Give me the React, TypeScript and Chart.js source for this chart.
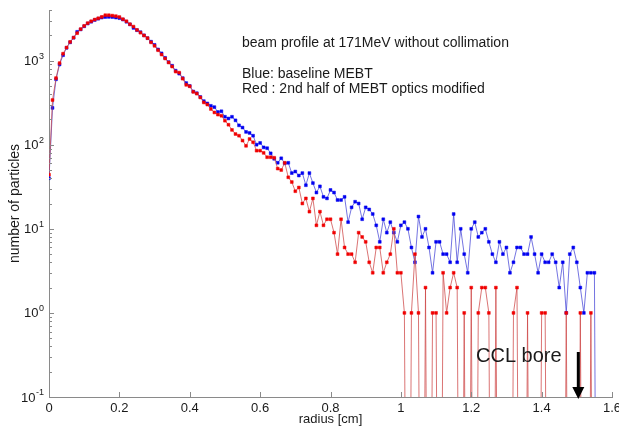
import React, { useEffect, useRef } from "react";
import { Chart, registerables } from "chart.js";

Chart.register(...registerables);

// radius bins [cm]
const RADIUS_CM = [
  0, 0.01, 0.02, 0.03, 0.04, 0.05, 0.06, 0.07, 0.08, 0.09,
  0.1, 0.11, 0.12, 0.13, 0.14, 0.15, 0.16, 0.17, 0.18, 0.19,
  0.2, 0.21, 0.22, 0.23, 0.24, 0.25, 0.26, 0.27, 0.28, 0.29,
  0.3, 0.31, 0.32, 0.33, 0.34, 0.35, 0.36, 0.37, 0.38, 0.39,
  0.4, 0.41, 0.42, 0.43, 0.44, 0.45, 0.46, 0.47, 0.48, 0.49,
  0.5, 0.51, 0.52, 0.53, 0.54, 0.55, 0.56, 0.57, 0.58, 0.59,
  0.6, 0.61, 0.62, 0.63, 0.64, 0.65, 0.66, 0.67, 0.68, 0.69,
  0.7, 0.71, 0.72, 0.73, 0.74, 0.75, 0.76, 0.77, 0.78, 0.79,
  0.8, 0.81, 0.82, 0.83, 0.84, 0.85, 0.86, 0.87, 0.88, 0.89,
  0.9, 0.91, 0.92, 0.93, 0.94, 0.95, 0.96, 0.97, 0.98, 0.99,
  1.0, 1.01, 1.02, 1.03, 1.04, 1.05, 1.06, 1.07, 1.08, 1.09,
  1.1, 1.11, 1.12, 1.13, 1.14, 1.15, 1.16, 1.17, 1.18, 1.19,
  1.2, 1.21, 1.22, 1.23, 1.24, 1.25, 1.26, 1.27, 1.28, 1.29,
  1.3, 1.31, 1.32, 1.33, 1.34, 1.35, 1.36, 1.37, 1.38, 1.39,
  1.4, 1.41, 1.42, 1.43, 1.44, 1.45, 1.46, 1.47, 1.48, 1.49,
  1.5, 1.51, 1.52, 1.53, 1.54, 1.55, 1.56,
];

// Blue: baseline MEBT
const BLUE_BASELINE = [
  40, 274, 600, 900, 1160, 1420, 1650, 1870, 2200, 2350,
  2560, 2760, 2900, 3040, 3150, 3250, 3300, 3310, 3300, 3250,
  3200, 3080, 2900, 2700, 2450, 2300, 2180, 2000, 1850, 1680,
  1540, 1360, 1220, 1080, 960, 870, 760, 700, 620, 541,
  500, 430, 410, 370, 330, 310, 290, 280, 245, 250,
  215, 205, 215, 195, 170, 160, 142, 138, 128, 100,
  105, 93, 91, 79, 68, 61, 69, 60, 61, 46,
  48, 43, 46, 33, 46, 35, 27, 32, 24, 23,
  29, 27, 22, 22, 24, 12, 18, 21, 20, 13,
  18, 17, 15, 11, 7, 13, 9, 12, 9, 7,
  11, 12, 10, 6, 4, 14, 8, 10, 6, 3,
  7, 7, 5, 5, 4, 15, 4, 10, 5, 3,
  10, 12, 8, 9, 10, 7, 5, 4, 7, 5,
  6, 3, 4, 6, 6, 5, 5, 8, 5, 3,
  5, 4, 4, 5, 4, 2, 4, 1, 5, 6,
  4, 2, 1, 3, 3, 3, 0,
];

// Red: 2nd half of MEBT optics modified
const RED_MODIFIED = [
  44, 340, 620, 934, 1210, 1430, 1670, 1880, 2120, 2370,
  2590, 2790, 2940, 3080, 3190, 3310, 3470, 3470, 3430, 3380,
  3300, 3110, 2940, 2710, 2540, 2320, 2150, 1990, 1850, 1650,
  1500, 1330, 1180, 1060, 950, 850, 740, 720, 610, 515,
  495, 425, 405, 365, 318, 300, 266, 242, 228, 221,
  193, 173, 150, 134, 128, 112, 97, 117, 107, 85,
  85, 80, 71, 71, 70, 52, 50, 61, 41, 36,
  28, 31, 20, 23, 16, 23, 11, 16, 11, 13,
  13, 9, 5, 13, 6, 5, 5, 4, 9, 8,
  7, 4, 3, 6, 6, 3, 4, 5, 10, 3,
  3, 1, 0, 1, 5, 1, 0, 2, 0, 1,
  1, 0, 3, 1, 2, 3, 2, 0, 1, 0,
  2, 0, 1, 2, 2, 1, 0, 2, 0, 0,
  0, 0, 1, 2, 0, 0, 1, 0, 0, 0,
  1, 1, 0, 0, 0, 0, 0, 1, 0, 0,
  0, 1, 0, 0, 1, 0, 0,
];

const X_TICKS = [0, 0.2, 0.4, 0.6, 0.8, 1, 1.2, 1.4, 1.6];
const X_TICK_LABELS = ["0", "0.2", "0.4", "0.6", "0.8", "1", "1.2", "1.4", "1.6"];
const Y_TICKS = [0.1, 1, 10, 100, 1000];
const Y_TICK_EXPONENTS = ["-1", "0", "1", "2", "3"];
const Y_MINOR_MULTIPLIERS = [2, 3, 4, 5, 6, 7, 8, 9];

const TITLE_TEXT = "beam profile at 171MeV without collimation";
const LEGEND_LINES = ["Blue: baseline MEBT", "Red : 2nd half of MEBT optics modified"];
const BORE_LABEL = "CCL bore";
const BORE_RADIUS_CM = 1.5;

const X_TITLE = "radius [cm]";
const Y_TITLE = "number of particles";

const Y_MIN = 0.1;
const Y_MAX = 4000;
const ZERO_FLOOR = 1e-7; // zero counts: drawn far below the axis (clipped)

const FONT = '"Liberation Sans", Arial, sans-serif';
const AXIS_COLOR = "#8a8a8a";
const TEXT_COLOR = "#1a1a1a";

function toPoints(values: number[]) {
  return values.map((v, i) => ({ x: RADIUS_CM[i], y: v > 0 ? v : ZERO_FLOOR }));
}

const overlayPlugin = {
  id: "overlay",
  afterDatasetsDraw(chart: any) {
    const { ctx, chartArea } = chart;
    const xs = chart.scales.x;
    const ys = chart.scales.y;
    ctx.save();

    // inward tick marks
    ctx.strokeStyle = AXIS_COLOR;
    ctx.lineWidth = 1;
    X_TICKS.forEach((v) => {
      const px = Math.round(xs.getPixelForValue(v)) + 0.5;
      ctx.beginPath();
      ctx.moveTo(px, chartArea.bottom);
      ctx.lineTo(px, chartArea.bottom - 5);
      ctx.stroke();
    });
    Y_TICKS.forEach((d) => {
      const py = Math.round(ys.getPixelForValue(d)) + 0.5;
      ctx.beginPath();
      ctx.moveTo(chartArea.left, py);
      ctx.lineTo(chartArea.left + 5, py);
      ctx.stroke();
      Y_MINOR_MULTIPLIERS.forEach((m) => {
        const v = d * m;
        if (v > Y_MAX) return;
        const pm = Math.round(ys.getPixelForValue(v)) + 0.5;
        ctx.beginPath();
        ctx.moveTo(chartArea.left, pm);
        ctx.lineTo(chartArea.left + 3, pm);
        ctx.stroke();
      });
    });

    // y tick labels: 10^n
    ctx.fillStyle = TEXT_COLOR;
    Y_TICKS.forEach((d, i) => {
      const py = ys.getPixelForValue(d);
      const right = chartArea.left - 5;
      ctx.font = `9px ${FONT}`;
      ctx.textAlign = "right";
      ctx.textBaseline = "alphabetic";
      const expW = ctx.measureText(Y_TICK_EXPONENTS[i]).width;
      ctx.fillText(Y_TICK_EXPONENTS[i], right, py - 2);
      ctx.font = `13px ${FONT}`;
      ctx.textBaseline = "middle";
      ctx.fillText("10", right - expW - 0.5, py + 1);
    });

    // annotation texts
    ctx.textAlign = "left";
    ctx.textBaseline = "alphabetic";
    ctx.font = `14px ${FONT}`;
    ctx.fillText(TITLE_TEXT, 242, 47);
    LEGEND_LINES.forEach((t, i) => ctx.fillText(t, 242, 78 + i * 14.5));

    // CCL bore label and arrow
    ctx.font = `20px ${FONT}`;
    ctx.fillText(BORE_LABEL, 476, 362);
    const ax = xs.getPixelForValue(BORE_RADIUS_CM) + 1.5;
    ctx.strokeStyle = "#000";
    ctx.lineWidth = 3;
    ctx.beginPath();
    ctx.moveTo(ax, 352);
    ctx.lineTo(ax, 390);
    ctx.stroke();
    ctx.fillStyle = "#000";
    ctx.beginPath();
    ctx.moveTo(ax - 6, 387);
    ctx.lineTo(ax + 6, 387);
    ctx.lineTo(ax, chartArea.bottom + 2);
    ctx.closePath();
    ctx.fill();

    ctx.restore();
  },
};

export default function App() {
  const canvasRef = useRef<HTMLCanvasElement | null>(null);

  useEffect(() => {
    if (!canvasRef.current) return;
    const pointRadius = (c: any) => (c.raw && c.raw.y > ZERO_FLOOR ? 2 : 0);
    const chart = new Chart(canvasRef.current, {
      type: "line",
      data: {
        datasets: [
          {
            label: "Red : 2nd half of MEBT optics modified",
            data: toPoints(RED_MODIFIED),
            borderColor: "rgba(205, 70, 70, 0.75)",
            borderWidth: 1,
            pointStyle: "rect",
            pointRadius,
            pointBackgroundColor: "#f00000",
            pointBorderColor: "#f00000",
            pointBorderWidth: 0.5,
            tension: 0,
            order: 0,
          },
          {
            label: "Blue: baseline MEBT",
            data: toPoints(BLUE_BASELINE),
            borderColor: "rgba(70, 70, 215, 0.75)",
            borderWidth: 1,
            pointStyle: "rect",
            pointRadius,
            pointBackgroundColor: "#0000f0",
            pointBorderColor: "#0000f0",
            pointBorderWidth: 0.5,
            tension: 0,
            order: 1,
          },
        ],
      },
      options: {
        animation: false,
        responsive: false,
        devicePixelRatio: 1,
        parsing: false as any,
        normalized: true,
        layout: { padding: { top: 10, right: 7, left: 0, bottom: 0 } },
        plugins: {
          legend: { display: false },
          tooltip: { enabled: false },
          title: { display: false },
        },
        scales: {
          x: {
            type: "linear",
            min: 0,
            max: 1.6,
            afterBuildTicks: (s: any) => {
              s.ticks = X_TICKS.map((v) => ({ value: v }));
            },
            afterFit: (s: any) => {
              s.height = 33;
              s.paddingLeft = 0;
              s.paddingRight = 0;
            },
            grid: { display: true, drawOnChartArea: false, drawTicks: false },
            border: { display: true, color: AXIS_COLOR, width: 1 },
            ticks: {
              autoSkip: false,
              maxRotation: 0,
              padding: 4,
              color: TEXT_COLOR,
              font: { family: FONT, size: 13 },
              callback: (_v: any, i: number) => X_TICK_LABELS[i],
            },
            title: {
              display: true,
              text: X_TITLE,
              color: TEXT_COLOR,
              font: { family: FONT, size: 13 },
              padding: { top: 0, bottom: 3 },
            },
          },
          y: {
            type: "logarithmic",
            min: Y_MIN,
            max: Y_MAX,
            afterBuildTicks: (s: any) => {
              s.ticks = Y_TICKS.map((v) => ({ value: v }));
            },
            afterFit: (s: any) => {
              s.width = 49;
              s.paddingTop = 0;
              s.paddingBottom = 0;
            },
            grid: { display: true, drawOnChartArea: false, drawTicks: false },
            border: { display: true, color: AXIS_COLOR, width: 1 },
            ticks: { display: false },
            title: {
              display: true,
              text: Y_TITLE,
              color: TEXT_COLOR,
              font: { family: FONT, size: 14 },
              padding: { top: 7, bottom: 0 },
            },
          },
        },
      },
      plugins: [overlayPlugin],
    });
    return () => chart.destroy();
  }, []);

  return (
    <div style={{ position: "absolute", left: 0, top: 0, width: 619, height: 430, background: "#fff" }}>
      <canvas ref={canvasRef} width={619} height={430} style={{ width: 619, height: 430 }} />
    </div>
  );
}
